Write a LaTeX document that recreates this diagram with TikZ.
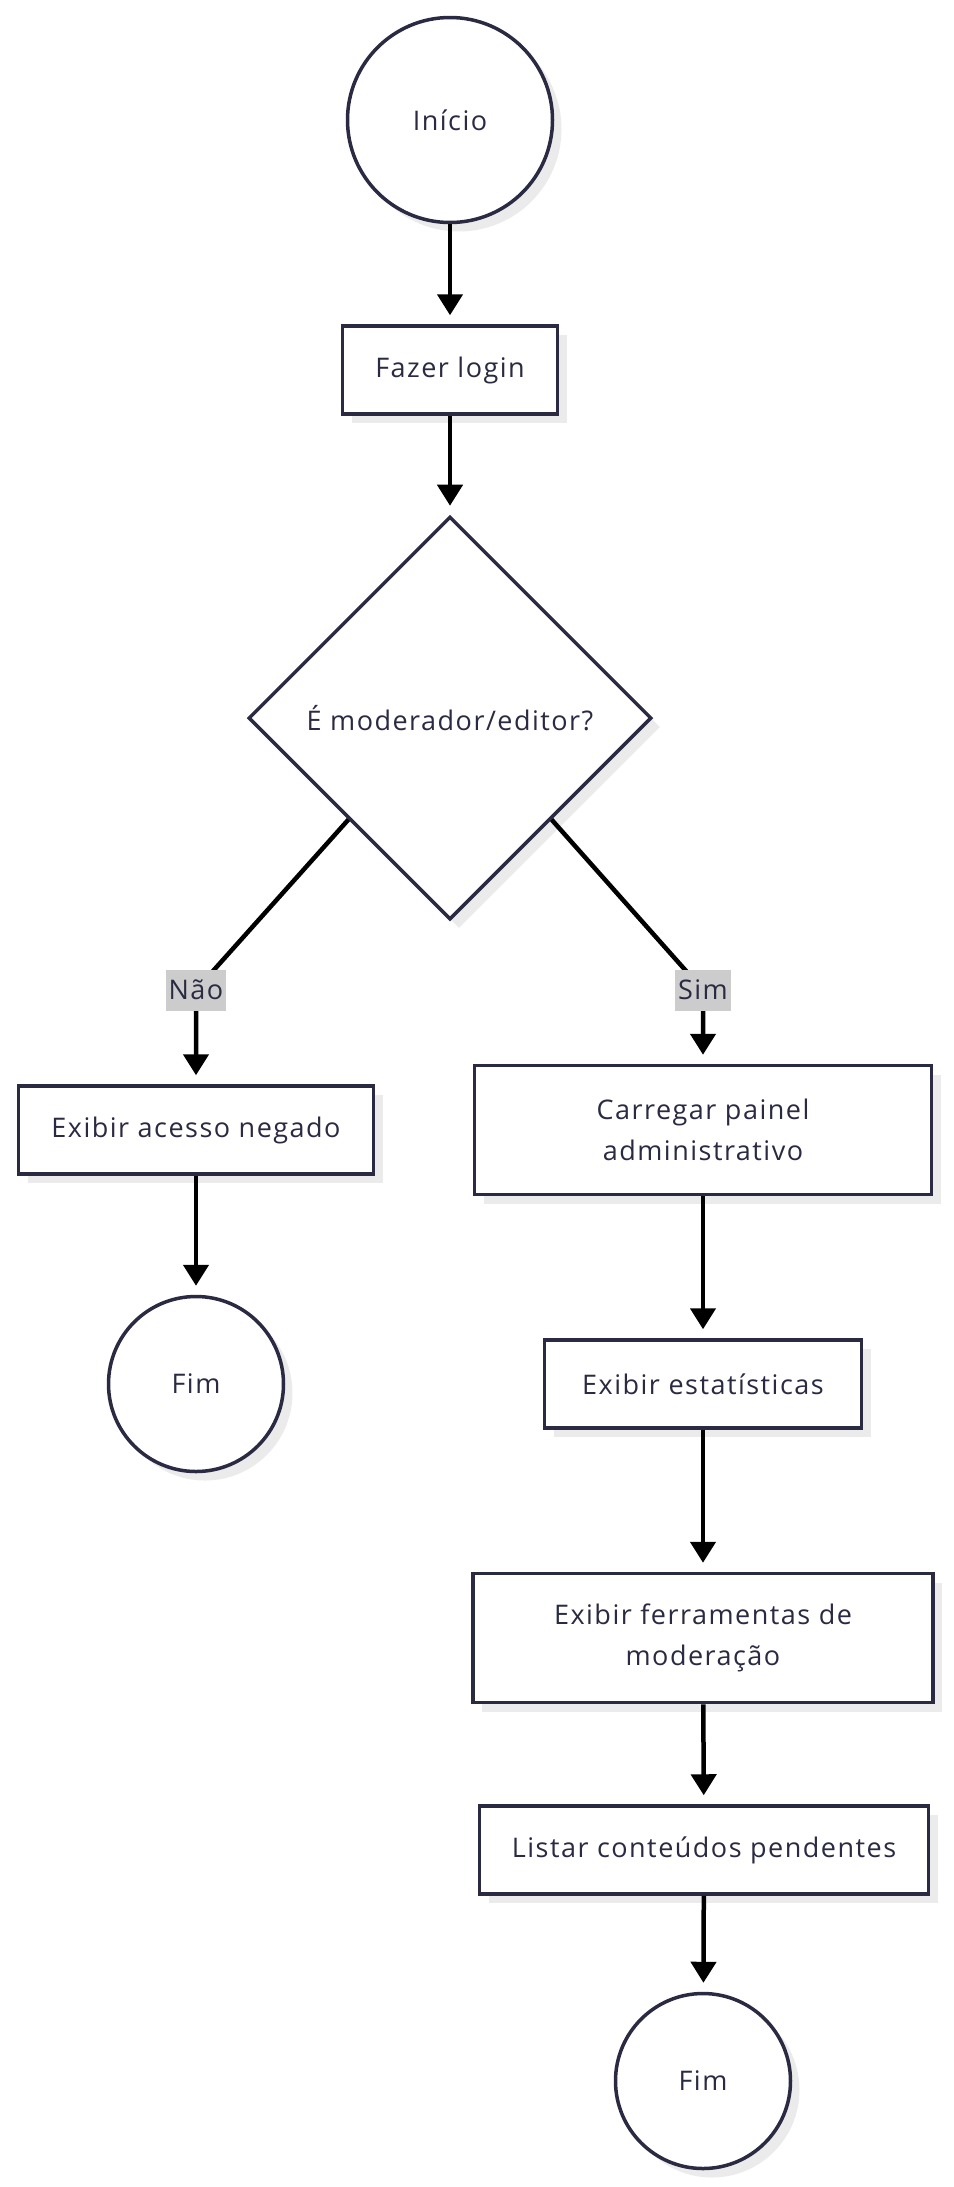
\documentclass[tikz,border=0pt]{standalone}
\usepackage{fontspec}
\setmainfont{Open Sans}[LetterSpace=5.5]
\usetikzlibrary{shapes.geometric}
\usetikzlibrary{arrows.meta}
\usetikzlibrary{shadows}
\definecolor{ink}{RGB}{42,42,66}
\definecolor{lblgray}{RGB}{204,204,204}
\tikzstyle{flow}=[x=1pt, y=-1pt, font=\fontsize{27}{41}\selectfont, text=ink]
\tikzstyle{sh}=[drop shadow={shadow xshift=9pt, shadow yshift=-9pt, fill=black!8, opacity=1}]
\tikzstyle{term}=[circle, draw=ink, line width=3.5pt, fill=white, sh, inner sep=0pt]
\tikzstyle{proc}=[rectangle, draw=ink, line width=3.5pt, fill=white, sh, minimum height=88pt, align=center]
\tikzstyle{dec}=[diamond, aspect=1, draw=ink, line width=3.5pt, fill=white, sh, inner sep=0pt, minimum width=403pt, minimum height=403pt]
\tikzstyle{edge}=[line width=4.5pt, draw=black, -{Triangle[width=25pt, length=21pt]}, shorten >=9pt]
\tikzstyle{lbl}=[fill=lblgray, text=ink, inner xsep=3pt, inner ysep=0pt, minimum height=41pt]

\begin{document}
\begin{tikzpicture}[flow]
	\useasboundingbox (0,0) rectangle (953,2187);
	\draw (450,120) node[term, minimum size=205pt] (start) {Início};
	\draw (450,370) node[proc, minimum width=215pt] (login) {Fazer login};
	\draw (450,718) node[dec] (check) {É moderador/editor?};
	%
	\draw (196,1130) node[proc, minimum width=355pt] (negado) {Exibir acesso negado};
	\draw (196,1384) node[term, minimum size=175pt] (fimA) {Fim};
	%
	\draw (703,1130) node[proc, minimum width=457pt, minimum height=129pt] (painel) {Carregar painel\\administrativo};
	\draw (703,1384) node[proc, minimum width=317pt] (estat) {Exibir estatísticas};
	\draw (703,1638) node[proc, minimum width=460pt, minimum height=129pt] (ferram) {Exibir ferramentas de\\moderação};
	\draw (704,1850) node[proc, minimum width=449pt] (listar) {Listar conteúdos pendentes};
	\draw (703,2081) node[term, minimum size=175pt] (fimB) {Fim};
	%
	\coordinate (bendNao) at (196,990);
	\coordinate (bendSim) at (703,990);
	%
	\draw[edge] (start) -- (login);
	\draw[edge] (login) -- (check);
	\draw[edge] (check.south west) -- (bendNao) node[lbl] {Não} -- (negado);
	\draw[edge] (check.south east) -- (bendSim) node[lbl] {Sim} -- (painel);
	\draw[edge] (negado) -- (fimA);
	\draw[edge] (painel) -- (estat);
	\draw[edge] (estat) -- (ferram);
	\draw[edge] (ferram) -- (listar);
	\draw[edge] (listar) -- (fimB);
\end{tikzpicture}
\end{document}
